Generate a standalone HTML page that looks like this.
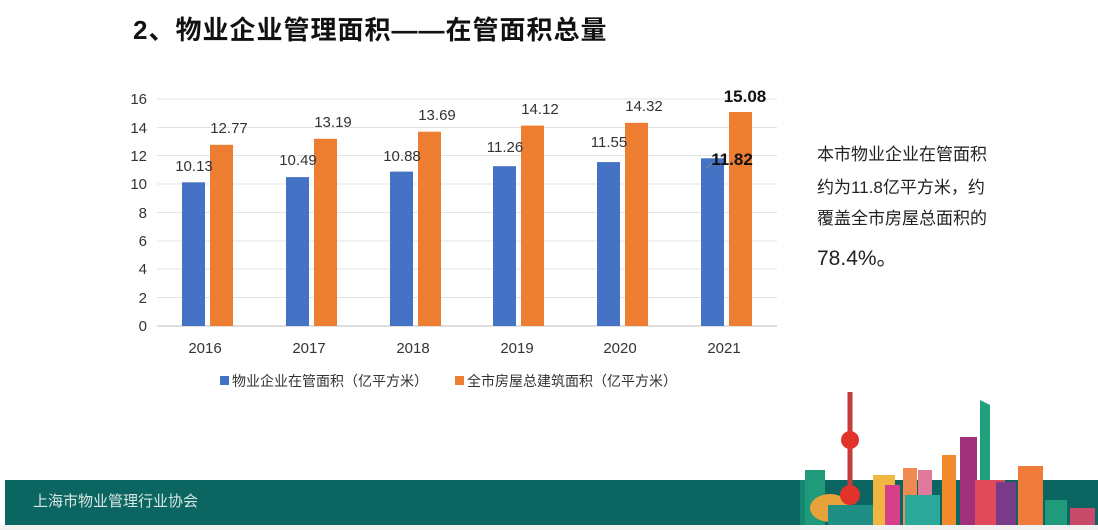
<!DOCTYPE html><html><head><meta charset="utf-8"><style>body{margin:0;background:#fff}svg{display:block}</style></head><body>
<svg width="1098" height="530" xmlns="http://www.w3.org/2000/svg" font-family="Liberation Sans, Noto Sans CJK SC, sans-serif">
<text x="133" y="39" font-size="26" font-weight="bold" fill="#111" letter-spacing="1">2、物业企业管理面积——在管面积总量</text>
<g stroke="#e3e3e3" stroke-width="1">
<line x1="157" x2="777" y1="99" y2="99"/><line x1="157" x2="777" y1="127.5" y2="127.5"/><line x1="157" x2="777" y1="155.5" y2="155.5"/><line x1="157" x2="777" y1="184" y2="184"/><line x1="157" x2="777" y1="212.5" y2="212.5"/><line x1="157" x2="777" y1="241" y2="241"/><line x1="157" x2="777" y1="269" y2="269"/><line x1="157" x2="777" y1="297.5" y2="297.5"/></g>
<line x1="157" x2="777" y1="326" y2="326" stroke="#bfbfbf"/>
<g font-size="15" fill="#333" text-anchor="end">
<text x="147" y="104">16</text><text x="147" y="133">14</text><text x="147" y="161">12</text><text x="147" y="189">10</text><text x="147" y="218">8</text><text x="147" y="246">6</text><text x="147" y="274">4</text><text x="147" y="303">2</text><text x="147" y="331">0</text></g>
<g fill="#4472c4">
<rect x="182" y="182.3" width="23" height="143.7"/><rect x="286" y="177.1" width="23" height="148.9"/><rect x="390" y="171.6" width="23" height="154.4"/><rect x="493" y="166.2" width="23" height="159.8"/><rect x="597" y="162.1" width="23" height="163.9"/><rect x="701" y="158.3" width="23" height="167.7"/></g>
<g fill="#ed7d31">
<rect x="210" y="144.8" width="23" height="181.2"/><rect x="314" y="138.8" width="23" height="187.2"/><rect x="418" y="131.7" width="23" height="194.3"/><rect x="521" y="125.6" width="23" height="200.4"/><rect x="625" y="122.8" width="23" height="203.2"/><rect x="729" y="112" width="23" height="214"/></g>
<g font-size="15" fill="#333" text-anchor="middle">
<text x="194" y="171">10.13</text><text x="298" y="165">10.49</text><text x="402" y="161">10.88</text><text x="505" y="152">11.26</text><text x="609" y="147">11.55</text>
<text x="229" y="133">12.77</text><text x="333" y="127">13.19</text><text x="437" y="120">13.69</text><text x="540" y="114">14.12</text><text x="644" y="111">14.32</text>
<text x="732" y="165" font-weight="bold" font-size="17" fill="#111">11.82</text><text x="745" y="102" font-weight="bold" font-size="17" fill="#111">15.08</text>
<text x="205" y="353">2016</text><text x="309" y="353">2017</text><text x="413" y="353">2018</text><text x="517" y="353">2019</text><text x="620" y="353">2020</text><text x="724" y="353">2021</text></g>
<line x1="712" y1="163" x2="706" y2="168" stroke="#888"/>
<rect x="220" y="376" width="9" height="9" fill="#4472c4"/><text x="232" y="386" font-size="14" fill="#333">物业企业在管面积（亿平方米）</text>
<rect x="455" y="376" width="9" height="9" fill="#ed7d31"/><text x="467" y="386" font-size="14" fill="#333">全市房屋总建筑面积（亿平方米）</text>
<g font-size="17" fill="#222"><text x="817" y="160">本市物业企业在管面积</text><text x="817" y="193">约为11.8亿平方米，约</text><text x="817" y="224">覆盖全市房屋总面积的</text><text x="817" y="265" font-size="21">78.4%。</text></g>
<rect x="5" y="480" width="1093" height="45" fill="#0b6661"/>
<rect x="0" y="525" width="1098" height="5" fill="#f2f2f2"/>
<text x="33" y="506" font-size="15" fill="#d8e6e4">上海市物业管理行业协会</text>
<g>
<rect x="800" y="480" width="15" height="45" fill="#15866f"/><rect x="805" y="470" width="20" height="55" fill="#1f9a7a"/>
<ellipse cx="830" cy="508" rx="20" ry="14" fill="#e8a23a"/>
<rect x="828" y="505" width="55" height="20" fill="#1f8f86"/>
<line x1="850" y1="392" x2="850" y2="505" stroke="#c63a3a" stroke-width="5"/>
<circle cx="850" cy="440" r="9" fill="#e2332b"/><circle cx="850" cy="495" r="10" fill="#e2332b"/>
<rect x="873" y="475" width="22" height="50" fill="#f0b640"/><rect x="885" y="485" width="15" height="40" fill="#d6408a"/>
<rect x="903" y="468" width="14" height="57" fill="#f08a50"/><rect x="918" y="470" width="14" height="55" fill="#e07a9a"/>
<rect x="905" y="495" width="35" height="30" fill="#2aa89a"/>
<rect x="942" y="455" width="14" height="70" fill="#f08a2a"/>
<rect x="960" y="437" width="17" height="88" fill="#a0307a"/>
<polygon points="980,400 990,405 990,505 980,505" fill="#1fa07c"/>
<rect x="975" y="480" width="30" height="45" fill="#e04a5a"/>
<rect x="996" y="482" width="20" height="43" fill="#7a3a8a"/>
<rect x="1018" y="466" width="25" height="59" fill="#f07a3a"/>
<rect x="1045" y="500" width="22" height="25" fill="#1f9a7a"/><rect x="1070" y="508" width="25" height="17" fill="#c84a6a"/>
</g>
</svg></body></html>
